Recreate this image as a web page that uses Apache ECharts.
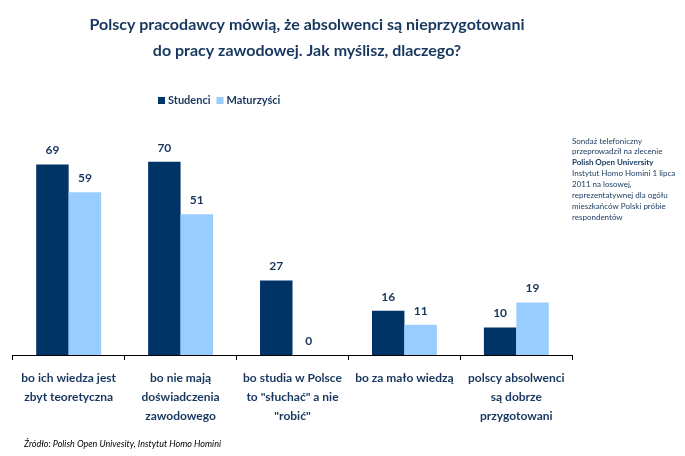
<!DOCTYPE html>
<html><head><meta charset="utf-8">
<script src="https://cdn.jsdelivr.net/npm/echarts@6/dist/echarts.min.js"></script>
<style>html,body{margin:0;padding:0;background:#fff}#c{width:685px;height:456px}</style>
</head><body><div id="c"></div>
<script>
const categories = [
  'bo ich wiedza jest\nzbyt teoretyczna',
  'bo nie mają\ndoświadczenia\nzawodowego',
  'bo studia w Polsce\nto "słuchać" a nie\n"robić"',
  'bo za mało wiedzą',
  'polscy absolwenci\nsą dobrze\nprzygotowani'
];
const studenci = [69, 70, 27, 16, 10];
const maturzysci = [59, 51, 0, 11, 19];
const seriesNames = ['Studenci', 'Maturzyści'];
const titleText = 'Polscy pracodawcy mówią, że absolwenci są nieprzygotowani\ndo pracy zawodowej. Jak myślisz, dlaczego?';
const noteLines = [
  ['Sondaż telefoniczny', false],
  ['przeprowadził na zlecenie', false],
  ['Polish Open University', true],
  ['Instytut Homo Homini 1 lipca', false],
  ['2011 na losowej,', false],
  ['reprezentatywnej dla ogółu', false],
  ['mieszkańców Polski próbie', false],
  ['respondentów', false]
];
const sourceText = 'Źródło: Polish Open Univesity, Instytut Homo Homini';

const navy = '#17375E';
const font = 'Lato';
const chart = echarts.init(document.getElementById('c'));
const noteGraphics = noteLines.map((l, i) => ({
  type: 'text', left: 572, top: 137 + i * 10.9,
  style: { text: l[0], fill: navy, font: (l[1] ? 'bold ' : '') + '8px ' + font }
}));
const labelStyle = { show: true, position: 'top', distance: 8, color: navy, fontWeight: 'bold', fontSize: 12, fontFamily: font };
chart.setOption({
  animation: false,
  textStyle: { fontFamily: font },
  title: {
    text: titleText, left: 302, top: 7, textAlign: 'center',
    textStyle: { color: navy, fontSize: 16, fontWeight: 'bold', fontFamily: font, lineHeight: 26 }
  },
  legend: {
    left: 153, top: 90, itemWidth: 7, itemHeight: 7, itemGap: 6,
    icon: 'rect',
    textStyle: { color: navy, fontSize: 11, fontFamily: font, fontWeight: 'bold', padding: [0, 0, 0, -2] },
    data: seriesNames
  },
  grid: { left: 12.7, right: 112.7, bottom: 101, top: 79, containLabel: false },
  xAxis: {
    type: 'category', data: categories,
    axisLine: { lineStyle: { color: '#000', width: 1 } },
    axisTick: { show: true, length: 5, lineStyle: { color: '#000' } },
    axisLabel: { interval: 0, color: navy, fontSize: 12, fontWeight: 'bold', fontFamily: font, lineHeight: 19, margin: 14 }
  },
  yAxis: { type: 'value', min: 0, max: 100, show: false, splitLine: { show: false } },
  series: [
    { name: seriesNames[0], type: 'bar', data: studenci, barGap: '0%', barCategoryGap: '42%',
      itemStyle: { color: '#003366' }, label: labelStyle },
    { name: seriesNames[1], type: 'bar', data: maturzysci,
      itemStyle: { color: '#99CCFF' }, label: labelStyle }
  ],
  graphic: noteGraphics.concat([
    { type: 'text', left: 24, top: 440, style: { text: sourceText, fill: '#000', font: 'italic 9px ' + font } }
  ])
});
</script></body></html>
